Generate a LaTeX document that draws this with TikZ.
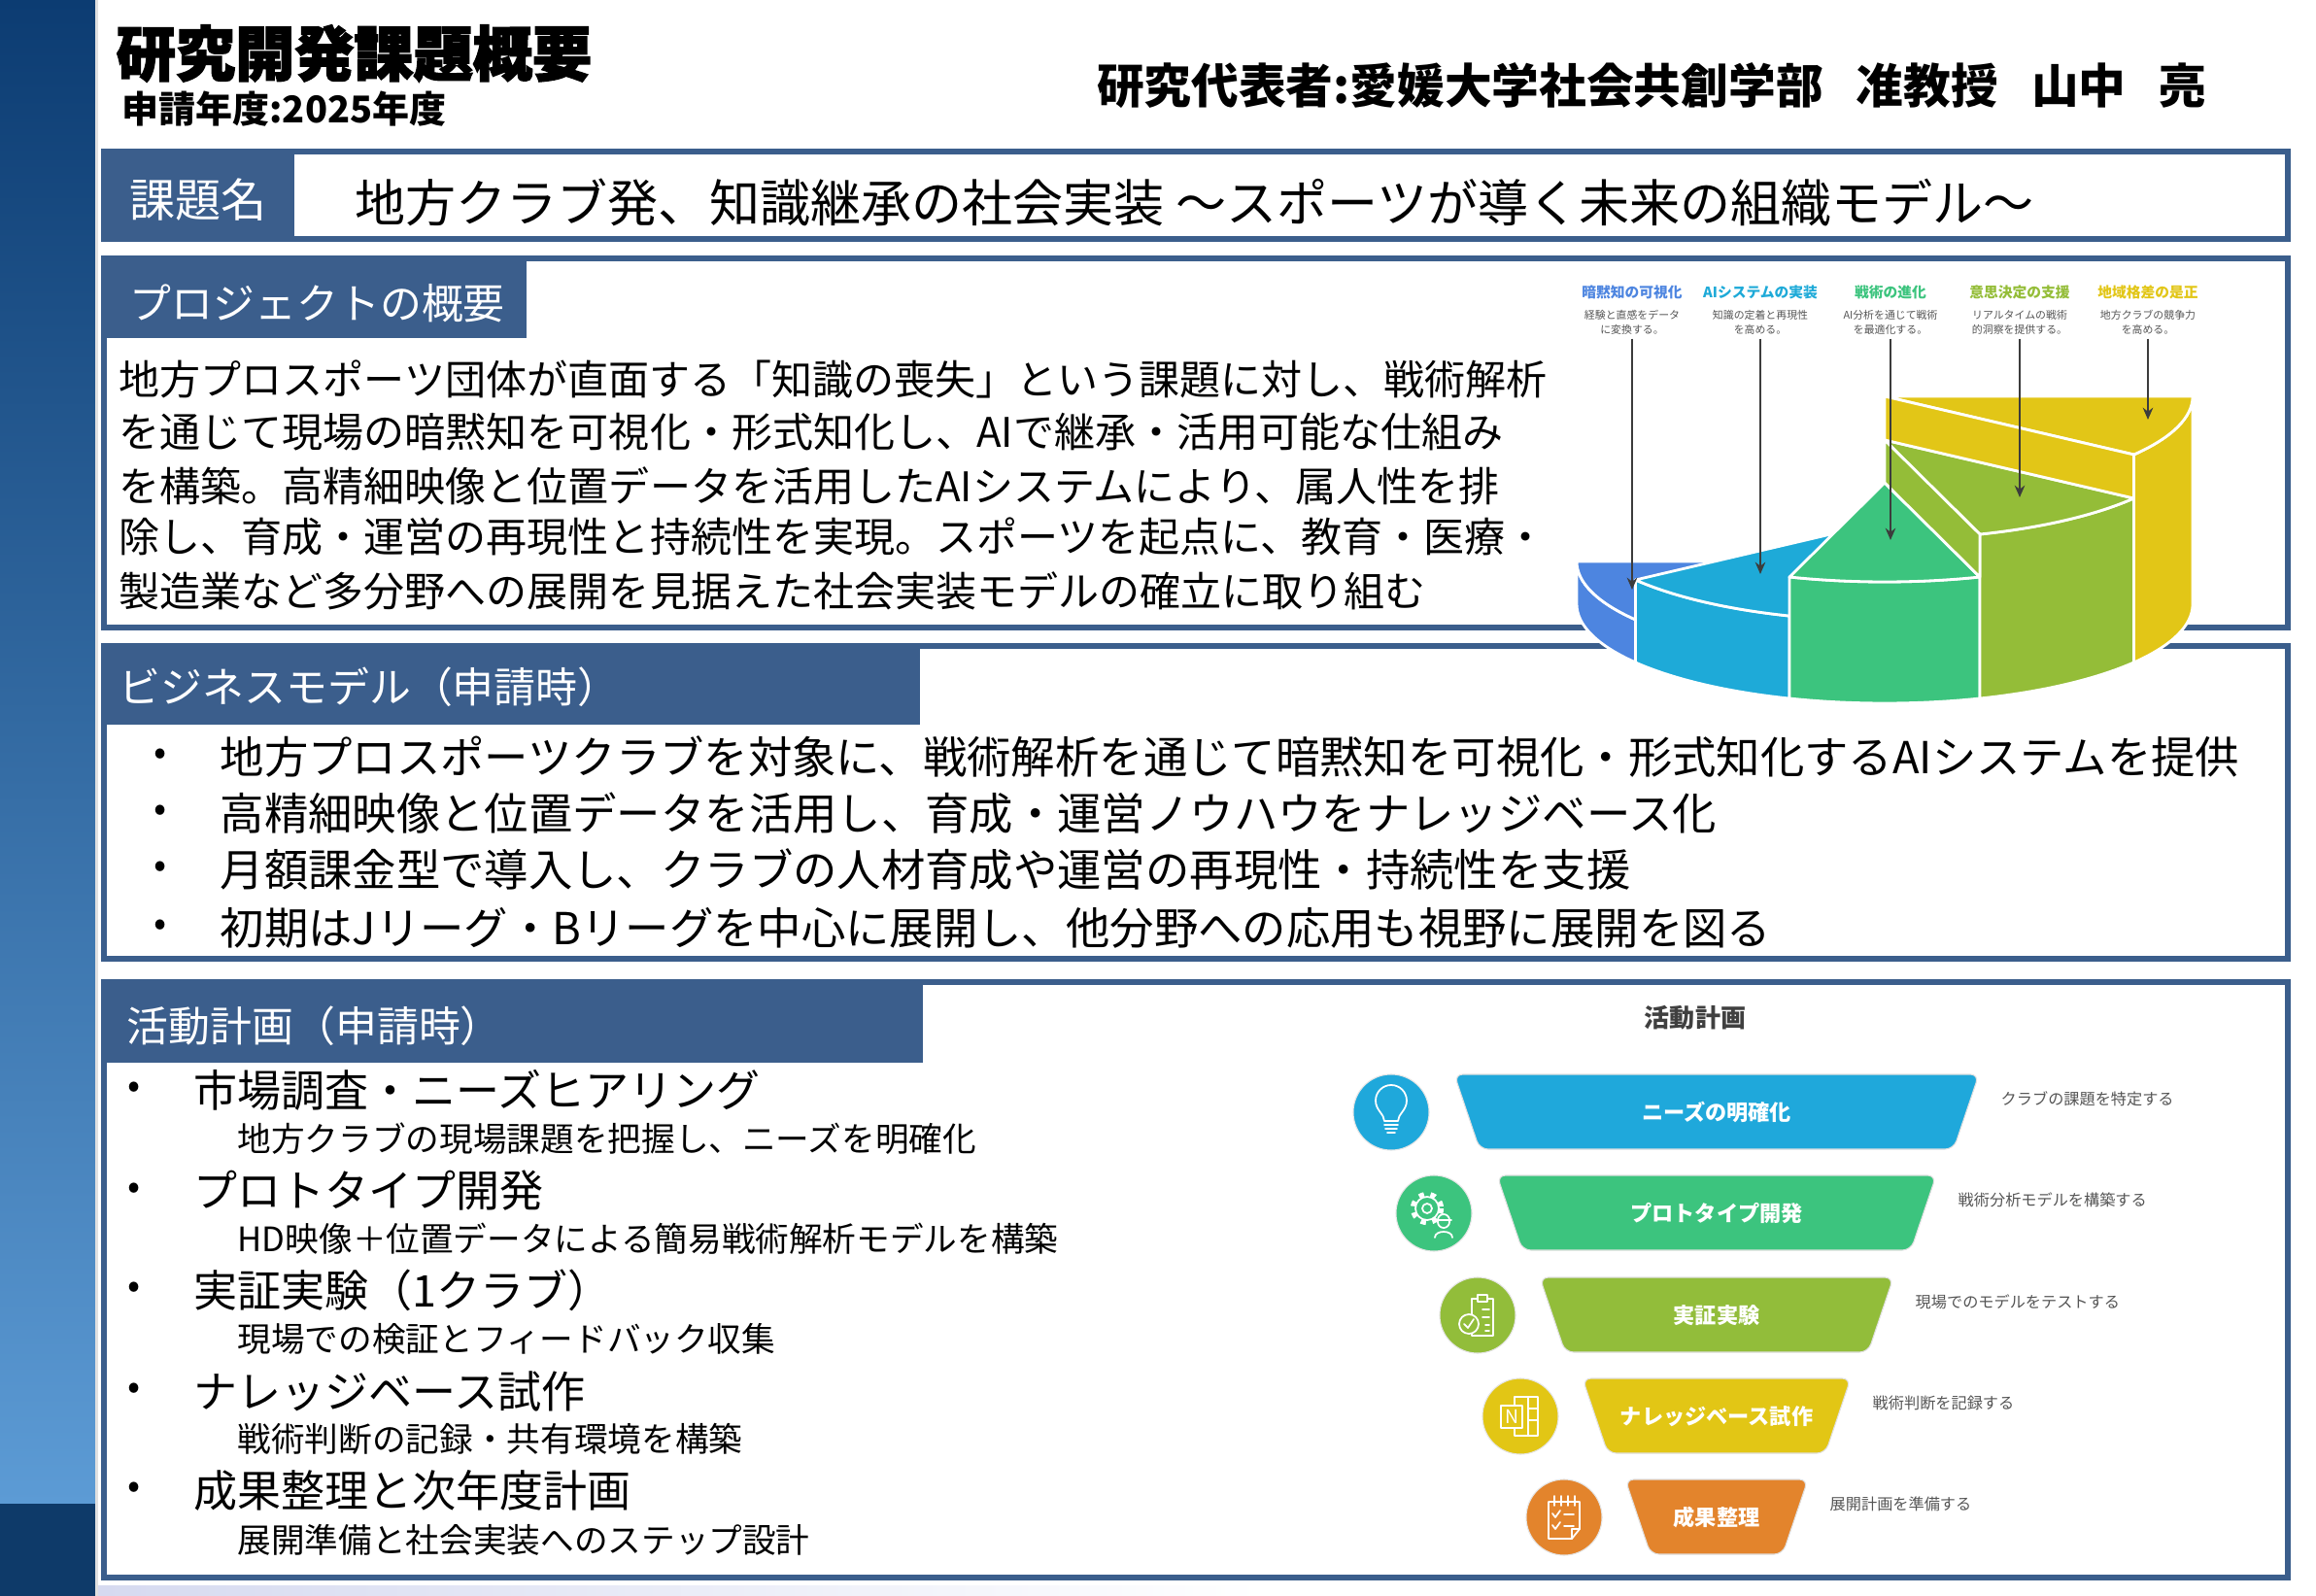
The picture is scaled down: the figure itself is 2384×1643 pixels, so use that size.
\documentclass[tikz,border=0pt]{standalone}
\usepackage{fontspec}
\setmainfont{Noto Sans CJK JP}
\newfontfamily\heavyfont{Noto Sans CJK JP}[FakeBold=2.5]
\usetikzlibrary{arrows.meta}

\definecolor{secblue}{RGB}{59,94,140}
\definecolor{sidetop}{RGB}{12,60,114}
\definecolor{sidebot}{RGB}{92,155,213}
\definecolor{sidedark}{RGB}{14,58,105}
\definecolor{stripcol}{RGB}{214,218,240}
\definecolor{pieblue}{RGB}{77,133,224}
\definecolor{piecyan}{RGB}{30,170,216}
\definecolor{piegreen}{RGB}{60,196,126}
\definecolor{pielime}{RGB}{148,189,56}
\definecolor{pieyellow}{RGB}{226,198,23}
\definecolor{piearrow}{RGB}{60,60,60}
\definecolor{fun1}{RGB}{31,168,219}
\definecolor{fun2}{RGB}{60,196,126}
\definecolor{fun3}{RGB}{146,189,58}
\definecolor{fun4}{RGB}{226,198,21}
\definecolor{fun5}{RGB}{227,132,44}
\definecolor{greytext}{RGB}{85,85,85}

\begin{document}
\begin{tikzpicture}[x=0.01cm,y=-0.01cm,
    secbox/.style={draw=secblue,line width=1.7pt},
    tablabel/.style={anchor=west,inner sep=0pt,text=white,font=\fontsize{12.2}{12.2}\selectfont},
    bodyline/.style={anchor=west,inner sep=0pt,font=\fontsize{11.95}{11.95}\selectfont},
    bmline/.style={anchor=west,inner sep=0pt,font=\fontsize{12.9}{12.9}\selectfont},
    planline/.style={anchor=west,inner sep=0pt,font=\fontsize{12.8}{12.8}\selectfont},
    subline/.style={anchor=west,inner sep=0pt,font=\fontsize{9.85}{9.85}\selectfont},
    dotmark/.style={inner sep=0pt,font=\fontsize{11}{11}\selectfont},
    pie/.style={x radius=317,y radius=102},
    seg/.style={draw=white,line width=0.8pt,line join=round},
    arr/.style={draw=piearrow,line width=0.55pt,-{Stealth[length=3.5pt,width=3pt]}},
    pietitle/.style={inner sep=0pt,font=\bfseries\fontsize{4.2}{4.2}\selectfont},
    piedesc/.style={inner sep=1pt,align=center,text=greytext,font=\fontsize{3.1}{4.2}\selectfont},
    bar/.style={draw=black!12,line width=0.3pt,rounded corners=2.5pt},
    bartext/.style={inner sep=0pt,text=white,font=\bfseries\fontsize{6.3}{6.3}\selectfont},
    fundesc/.style={anchor=west,inner sep=0pt,text=greytext,font=\fontsize{4.6}{4.6}\selectfont},
    icondot/.style={circle,minimum size=0.78cm,inner sep=0pt,draw=black!10,line width=0.3pt},
    icon/.style={draw=white,line width=0.5pt,line cap=round,line join=round}]

  \useasboundingbox (0,0) rectangle (2384,1643);
  \fill[white] (0,0) rectangle (2384,1643);

  % side bar and bottom strip
  \shade[top color=sidetop,bottom color=sidebot] (0,0) rectangle (98,1548);
  \fill[sidedark] (0,1548) rectangle (98,1643);
  \fill[black!12] (98,0) rectangle (101,1643);
  \shade[left color=stripcol,right color=white] (101,1632) rectangle (1300,1643);

  % header
  \node[anchor=west,inner sep=0pt,font=\heavyfont\bfseries\fontsize{17.4}{17.4}\selectfont] (title) at (119,55) {研究開発課題概要};
  \node[anchor=west,inner sep=0pt,font=\bfseries\fontsize{10.8}{10.8}\selectfont] (year) at (125,112) {申請年度:2025年度};
  \node[anchor=east,inner sep=0pt,font=\bfseries\fontsize{13.85}{13.85}\selectfont] (leader) at (2272,88) {研究代表者:愛媛大学社会共創学部\hspace{0.7em}准教授\hspace{0.7em}山中\hspace{0.7em}亮};

  % section boxes
  \fill[secblue] (107,156) rectangle (303,246);
  \draw[secbox] (107,156) rectangle (2355,246);
  \fill[secblue] (107,266) rectangle (542,348);
  \draw[secbox] (107,266) rectangle (2355,646);
  \fill[secblue] (107,665) rectangle (947,746);
  \draw[secbox] (107,665) rectangle (2355,987);
  \fill[secblue] (107,1011) rectangle (950,1094);
  \draw[secbox] (107,1011) rectangle (2355,1624);

  \node[tablabel,font=\fontsize{13.4}{13.4}\selectfont] (kadai) at (133,206) {課題名};
  \node[anchor=west,inner sep=0pt,font=\fontsize{14.8}{14.8}\selectfont] (theme) at (365,208) {地方クラブ発、知識継承の社会実装 ～スポーツが導く未来の組織モデル～};

  % project summary
  \node[tablabel] (gaiyo) at (133,312) {プロジェクトの概要};
  \node[bodyline] (p1) at (122,390) {地方プロスポーツ団体が直面する「知識の喪失」という課題に対し、戦術解析};
  \node[bodyline] (p2) at (122,445) {を通じて現場の暗黙知を可視化・形式知化し、AIで継承・活用可能な仕組み};
  \node[bodyline] (p3) at (122,500) {を構築。高精細映像と位置データを活用したAIシステムにより、属人性を排};
  \node[bodyline] (p4) at (122,553) {除し、育成・運営の再現性と持続性を実現。スポーツを起点に、教育・医療・};
  \node[bodyline] (p5) at (122,608) {製造業など多分野への展開を見据えた社会実装モデルの確立に取り組む};

  % stepped half pie
  \filldraw[seg,fill=pieblue] (1623,578) arc[start angle=180,end angle=144,pie] -- ++(0,44) arc[start angle=144,end angle=180,pie] -- cycle;
  \filldraw[seg,fill=pieblue] (1940,578) -- (1623,578) arc[start angle=180,end angle=144,pie] -- cycle;
  \filldraw[seg,fill=piecyan] (1683.5,597) arc[start angle=144,end angle=108,pie] -- ++(0,85) arc[start angle=108,end angle=144,pie] -- cycle;
  \filldraw[seg,fill=piecyan] (1940,537) -- (1683.5,597) arc[start angle=144,end angle=108,pie] -- cycle;
  \filldraw[seg,fill=piegreen] (1842,594) arc[start angle=108,end angle=72,pie] -- ++(0,125) arc[start angle=72,end angle=108,pie] -- cycle;
  \filldraw[seg,fill=piegreen] (1940,497) -- (1842,594) arc[start angle=108,end angle=72,pie] -- cycle;
  \filldraw[seg,fill=pielime] (2038,550) arc[start angle=72,end angle=36,pie] -- ++(0,169) arc[start angle=36,end angle=72,pie] -- cycle;
  \filldraw[seg,fill=pielime] (1940,453) -- (2038,550) arc[start angle=72,end angle=36,pie] -- cycle;
  \filldraw[seg,fill=pielime] (1940,453) -- (2038,550) -- (2038,594) -- (1940,497) -- cycle;
  \filldraw[seg,fill=pieyellow] (2196.5,468) arc[start angle=36,end angle=0,pie] -- ++(0,214) arc[start angle=0,end angle=36,pie] -- cycle;
  \filldraw[seg,fill=pieyellow] (1940,408) -- (2196.5,468) arc[start angle=36,end angle=0,pie] -- cycle;
  \filldraw[seg,fill=pieyellow] (1940,408) -- (2196.5,468) -- (2196.5,513) -- (1940,453) -- cycle;

  \node[pietitle,text=pieblue] (pt1) at (1680,301) {暗黙知の可視化};
  \node[pietitle,text=piecyan] (pt2) at (1812,301) {AIシステムの実装};
  \node[pietitle,text=piegreen] (pt3) at (1946,301) {戦術の進化};
  \node[pietitle,text=pielime] (pt4) at (2079,301) {意思決定の支援};
  \node[pietitle,text=pieyellow] (pt5) at (2211,301) {地域格差の是正};
  \node[piedesc] (pd1) at (1680,332) {経験と直感をデータ\\に変換する。};
  \node[piedesc] (pd2) at (1812,332) {知識の定着と再現性\\を高める。};
  \node[piedesc] (pd3) at (1946,332) {AI分析を通じて戦術\\を最適化する。};
  \node[piedesc] (pd4) at (2079,332) {リアルタイムの戦術\\的洞察を提供する。};
  \node[piedesc] (pd5) at (2211,332) {地方クラブの競争力\\を高める。};
  \coordinate (h1) at (1680,607);
  \coordinate (h2) at (1812,591);
  \coordinate (h3) at (1946,556);
  \coordinate (h4) at (2079,512);
  \coordinate (h5) at (2211,432);
  \draw[arr] (pd1) -- (h1);
  \draw[arr] (pd2) -- (h2);
  \draw[arr] (pd3) -- (h3);
  \draw[arr] (pd4) -- (h4);
  \draw[arr] (pd5) -- (h5);

  % business model
  \node[tablabel] (bm) at (122,707) {ビジネスモデル（申請時）};
  \node[dotmark] (bd1) at (165,779) {•};
  \node[dotmark] (bd2) at (165,837) {•};
  \node[dotmark] (bd3) at (165,895) {•};
  \node[dotmark] (bd4) at (165,955) {•};
  \node[bmline] (bl1) at (226,779) {地方プロスポーツクラブを対象に、戦術解析を通じて暗黙知を可視化・形式知化するAIシステムを提供};
  \node[bmline] (bl2) at (226,837) {高精細映像と位置データを活用し、育成・運営ノウハウをナレッジベース化};
  \node[bmline] (bl3) at (226,895) {月額課金型で導入し、クラブの人材育成や運営の再現性・持続性を支援};
  \node[bmline] (bl4) at (226,955) {初期はJリーグ・Bリーグを中心に展開し、他分野への応用も視野に展開を図る};

  % activity plan
  \node[tablabel] (plan) at (130,1056) {活動計画（申請時）};
  \node[dotmark] (ad1) at (138,1122) {•};
  \node[dotmark] (ad2) at (138,1226) {•};
  \node[dotmark] (ad3) at (138,1328) {•};
  \node[dotmark] (ad4) at (138,1432) {•};
  \node[dotmark] (ad5) at (138,1534) {•};
  \node[planline] (al1) at (199,1122) {市場調査・ニーズヒアリング};
  \node[planline] (al2) at (199,1226) {プロトタイプ開発};
  \node[planline] (al3) at (199,1328) {実証実験（1クラブ）};
  \node[planline] (al4) at (199,1432) {ナレッジベース試作};
  \node[planline] (al5) at (199,1534) {成果整理と次年度計画};
  \node[subline] (as1) at (244,1172) {地方クラブの現場課題を把握し、ニーズを明確化};
  \node[subline] (as2) at (244,1275) {HD映像＋位置データによる簡易戦術解析モデルを構築};
  \node[subline] (as3) at (244,1378) {現場での検証とフィードバック収集};
  \node[subline] (as4) at (244,1481) {戦術判断の記録・共有環境を構築};
  \node[subline] (as5) at (244,1585) {展開準備と社会実装へのステップ設計};

  % funnel
  \node[inner sep=0pt,text=black!75,font=\bfseries\fontsize{7.4}{7.4}\selectfont] (ftitle) at (1745,1048) {活動計画};
  \filldraw[bar,fill=fun1] (1497,1106) -- (2037,1106) -- (2011,1183) -- (1523,1183) -- cycle;
  \filldraw[bar,fill=fun2] (1541,1210) -- (1993,1210) -- (1967,1287) -- (1567,1287) -- cycle;
  \filldraw[bar,fill=fun3] (1585,1315) -- (1949,1315) -- (1923,1392) -- (1611,1392) -- cycle;
  \filldraw[bar,fill=fun4] (1629,1419) -- (1905,1419) -- (1879,1496) -- (1655,1496) -- cycle;
  \filldraw[bar,fill=fun5] (1673,1523) -- (1861,1523) -- (1835,1600) -- (1699,1600) -- cycle;
  \node[bartext] (f1) at (1767,1145) {ニーズの明確化};
  \node[bartext] (f2) at (1767,1249) {プロトタイプ開発};
  \node[bartext] (f3) at (1767,1354) {実証実験};
  \node[bartext] (f4) at (1767,1458) {ナレッジベース試作};
  \node[bartext] (f5) at (1767,1562) {成果整理};
  \node[fundesc] (g1) at (2059,1131) {クラブの課題を特定する};
  \node[fundesc] (g2) at (2015,1235) {戦術分析モデルを構築する};
  \node[fundesc] (g3) at (1971,1340) {現場でのモデルをテストする};
  \node[fundesc] (g4) at (1927,1444) {戦術判断を記録する};
  \node[fundesc] (g5) at (1883,1548) {展開計画を準備する};

  \node[icondot,fill=fun1] (c1) at (1432,1145) {};
  \node[icondot,fill=fun2] (c2) at (1476,1249) {};
  \node[icondot,fill=fun3] (c3) at (1521,1354) {};
  \node[icondot,fill=fun4] (c4) at (1565,1458) {};
  \node[icondot,fill=fun5] (c5) at (1610,1562) {};

  % icons
  \begin{scope}[shift={(c1.center)}]
    \draw[icon] (-7,9) .. controls (-7,2) and (-16,-2) .. (-16,-12) arc[start angle=180,end angle=360,radius=16] .. controls (16,-2) and (7,2) .. (7,9) -- cycle;
    \draw[icon] (-7,13) -- (7,13) (-6,17) -- (6,17) (-4,21) -- (4,21);
  \end{scope}
  \begin{scope}[shift={(c2.center)}]
    \draw[icon] (-7,-5) circle (5);
    \draw[icon] (-7,-5) circle (12);
    \draw[white,line width=1.5pt,dash pattern=on 1.5pt off 1.9pt] (-7,-5) circle (14.5);
    \draw[icon,fill=fun2] (10,9) circle (6);
    \draw[icon,fill=fun2] (2,7) -- (18,7) (4,7) arc[start angle=180,end angle=360,radius=6];
    \draw[icon] (1,25) .. controls (1,17) and (19,17) .. (19,25);
  \end{scope}
  \begin{scope}[shift={(c3.center)}]
    \draw[icon] (-6,-17) rectangle (16,21);
    \draw[icon,fill=fun3] (0,-21) rectangle (10,-14);
    \draw[icon] (5,-6) -- (12,-6) (5,2) -- (12,2) (8,10) -- (12,10) (8,16) -- (12,16);
    \draw[icon,fill=fun3] (-9,9) circle (10);
    \draw[icon] (-14,9) -- (-10,13) -- (-4,4);
  \end{scope}
  \begin{scope}[shift={(c4.center)}]
    \draw[icon] (-6,-20) rectangle (18,20);
    \draw[icon] (8,-20) -- (8,20) (8,-8) -- (18,-8) (8,4) -- (18,4);
    \draw[icon,fill=fun4] (-20,-11) rectangle (2,12);
    \node[inner sep=0pt,text=white,font=\fontsize{5.5}{5.5}\selectfont] (nmark) at (-9,0.5) {N};
  \end{scope}
  \begin{scope}[shift={(c5.center)}]
    \draw[icon] (-16,-16) -- (16,-16) -- (16,12) -- (8,22) -- (-16,22) -- cycle;
    \draw[icon] (16,12) -- (8,12) -- (8,22);
    \draw[icon] (-10,-22) -- (-10,-12) (-3,-22) -- (-3,-12) (4,-22) -- (4,-12) (11,-22) -- (11,-12);
    \draw[icon] (-12,-4) -- (-9,0) -- (-4,-7) (-12,8) -- (-9,12) -- (-4,5);
    \draw[icon] (0,-3) -- (10,-3) (0,9) -- (10,9);
  \end{scope}
\end{tikzpicture}
\end{document}
